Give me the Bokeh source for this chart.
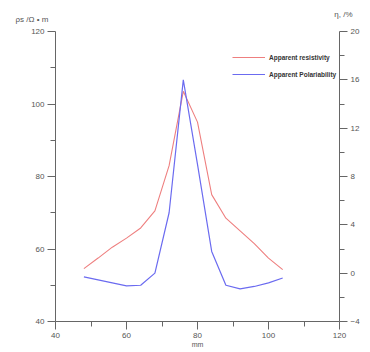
from bokeh.plotting import figure
from bokeh.models import (Range1d, LinearAxis, FixedTicker, Legend, LegendItem, Title)
from bokeh.embed import file_html
from bokeh.resources import INLINE

# data
position_mm = [48, 52, 56, 60, 64, 68, 72, 76, 80, 84, 88, 92, 96, 100, 104]
resistivity = [54.6, 57.5, 60.5, 63.0, 65.8, 70.5, 83.0, 103.5, 95.0, 75.0, 68.5, 65.0, 61.5, 57.5, 54.3]
polarizability = [-0.3, -0.55, -0.8, -1.05, -1.0, 0.0, 5.0, 16.0, 9.0, 1.8, -1.0, -1.3, -1.1, -0.8, -0.4]

x_ticks = [40, 60, 80, 100, 120]
x_minor = [50, 70, 90, 110]
left_ticks = [40, 60, 80, 100, 120]
left_minor = [50, 70, 90, 110]
right_ticks = [-4, 0, 4, 8, 12, 16, 20]
right_minor = [-2, 2, 6, 10, 14, 18]

W, H = 362, 352
p = figure(width=W, height=H, output_backend="svg", toolbar_location=None,
           x_range=Range1d(40, 120), y_range=Range1d(40, 120),
           min_border_left=55, min_border_right=18, min_border_top=31, min_border_bottom=31)
p.outline_line_color = None
p.xgrid.visible = False
p.ygrid.visible = False
p.extra_y_ranges = {"eta": Range1d(-4, 20)}

axis_color = "#666666"
label_color = "#555555"
font = "Liberation Sans"

def style(ax, ticks, minor):
    ax.ticker = FixedTicker(ticks=ticks, minor_ticks=minor)
    ax.axis_line_color = axis_color
    ax.major_tick_line_color = axis_color
    ax.minor_tick_line_color = axis_color
    ax.major_tick_out = 8
    ax.major_tick_in = 0
    ax.minor_tick_out = 5
    ax.minor_tick_in = 0
    ax.major_label_text_font = font
    ax.major_label_text_font_size = "8px"
    ax.major_label_text_color = label_color
    ax.major_label_standoff = 3

style(p.xaxis[0], x_ticks, x_minor)
style(p.yaxis[0], left_ticks, left_minor)
p.xaxis[0].axis_label = "mm"
p.xaxis[0].axis_label_text_font = font
p.xaxis[0].axis_label_text_font_size = "7px"
p.xaxis[0].axis_label_text_font_style = "normal"
p.xaxis[0].axis_label_text_color = label_color
p.xaxis[0].axis_label_standoff = 0

right = LinearAxis(y_range_name="eta")
style(right, right_ticks, right_minor)
p.add_layout(right, "right")

r1 = p.line(position_mm, resistivity, line_color="#ee7f7f", line_width=1.1)
r2 = p.line(position_mm, polarizability, y_range_name="eta", line_color="#6b6bf0", line_width=1.2)

legend = Legend(items=[LegendItem(label="Apparent resistivity", renderers=[r1]),
                       LegendItem(label="Apparent Polariability", renderers=[r2])],
                location=(177, 240))
legend.border_line_alpha = 0
legend.background_fill_alpha = 0
legend.padding = 0
legend.margin = 0
legend.spacing = 3
legend.glyph_width = 33
legend.glyph_height = 14
legend.label_height = 14
legend.label_standoff = 4
legend.label_text_font = font
legend.label_text_font_size = "6.5px"
legend.label_text_font_style = "bold"
legend.label_text_color = "#333333"
p.add_layout(legend, "center")

t_left = Title(text="ρs /Ω • m", align="left", offset=-40, text_font=font,
               text_font_size="8px", text_font_style="normal", text_color=label_color,
               standoff=16)
t_right = Title(text="η, /%", align="right", offset=-13, text_font=font,
                text_font_size="8px", text_font_style="normal", text_color=label_color,
                standoff=-28)
p.add_layout(t_left, "above")
p.add_layout(t_right, "above")

open("out.html", "w").write(file_html(p, INLINE))
